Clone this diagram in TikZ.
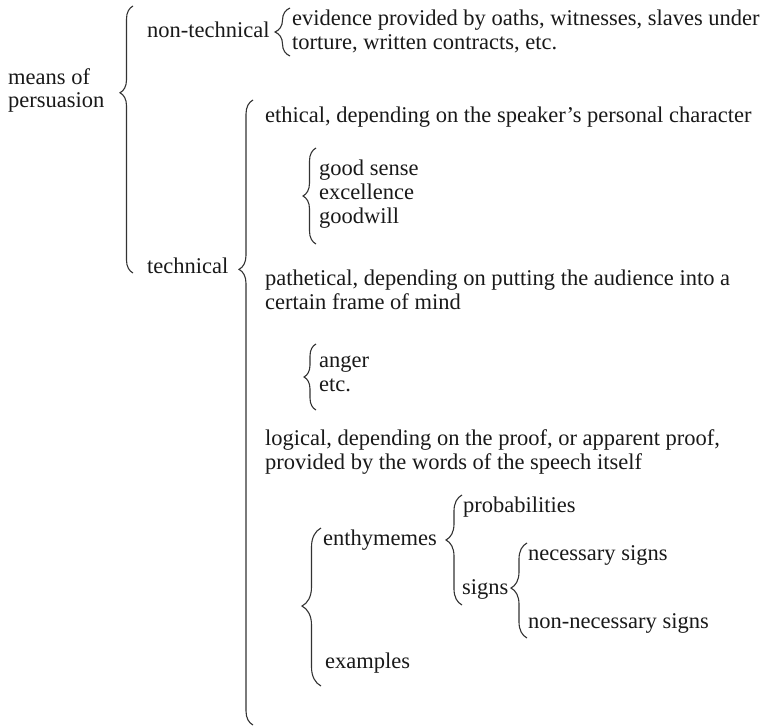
\documentclass[tikz,border=0pt]{standalone}
\usepackage{fontspec}
\setmainfont{Liberation Serif}
\usetikzlibrary{decorations.pathreplacing}
\begin{document}
\begin{tikzpicture}[x=1pt,y=-1pt,
  lbl/.style={anchor=base west,inner sep=0pt,font=\fontsize{22.5}{22}\selectfont,text=black!90},
  curly/.style 2 args={decorate,line width=1.1pt,draw=black!80,
    decoration={brace,amplitude=#1,aspect=#2}}]
\useasboundingbox (0,0) rectangle (769,728);

% root
\node[lbl] (means) at (8,84) {means of};
\node[lbl] (persuasion) at (8,107) {persuasion};

% first split
\node[lbl] (nontech) at (147,37) {non-technical};
\node[lbl] (technical) at (147,273) {technical};

% non-technical means
\node[lbl] (ev1) at (292,25) {evidence provided by oaths, witnesses, slaves under};
\node[lbl] (ev2) at (292,49) {torture, written contracts, etc.};

% technical means
\node[lbl] (ethical) at (265,122) {ethical, depending on the speaker’s personal character};
\node[lbl] (sense) at (319,175) {good sense};
\node[lbl] (excellence) at (319,199) {excellence};
\node[lbl] (goodwill) at (319,223) {goodwill};

\node[lbl] (pathetical) at (265,285) {pathetical, depending on putting the audience into a};
\node[lbl] (frame) at (265,309) {certain frame of mind};
\node[lbl] (anger) at (319,367) {anger};
\node[lbl] (etc) at (319,391) {etc.};

\node[lbl] (logical) at (265,445) {logical, depending on the proof, or apparent proof,};
\node[lbl] (provided) at (265,469) {provided by the words of the speech itself};

\node[lbl] (enthymemes) at (323,545) {enthymemes};
\node[lbl] (examples) at (325,668) {examples};
\node[lbl] (probabilities) at (463,512) {probabilities};
\node[lbl] (signs) at (462,594) {signs};
\node[lbl] (necessary) at (528,560) {necessary signs};
\node[lbl] (nonnecessary) at (528,628) {non-necessary signs};

% brace end points
\coordinate (b1t) at (133,6);   \coordinate (b1b) at (133,273);
\coordinate (b2t) at (290,8);   \coordinate (b2b) at (290,56);
\coordinate (b3t) at (253,100); \coordinate (b3b) at (253,725);
\coordinate (b4t) at (316,148); \coordinate (b4b) at (316,244);
\coordinate (b5t) at (316,344); \coordinate (b5b) at (316,410);
\coordinate (b6t) at (321,528); \coordinate (b6b) at (321,686);
\coordinate (b7t) at (462,495); \coordinate (b7b) at (462,605);
\coordinate (b8t) at (527,543); \coordinate (b8b) at (527,638);

% braces, drawn bottom to top so the point faces left
\draw[curly={13}{0.675}] (b1b) -- (b1t);
\draw[curly={15}{0.500}] (b2b) -- (b2t);
\draw[curly={14}{0.729}] (b3b) -- (b3t);
\draw[curly={13}{0.500}] (b4b) -- (b4t);
\draw[curly={12}{0.500}] (b5b) -- (b5t);
\draw[curly={19}{0.506}] (b6b) -- (b6t);
\draw[curly={16}{0.591}] (b7b) -- (b7t);
\draw[curly={16}{0.526}] (b8b) -- (b8t);
\end{tikzpicture}
\end{document}
